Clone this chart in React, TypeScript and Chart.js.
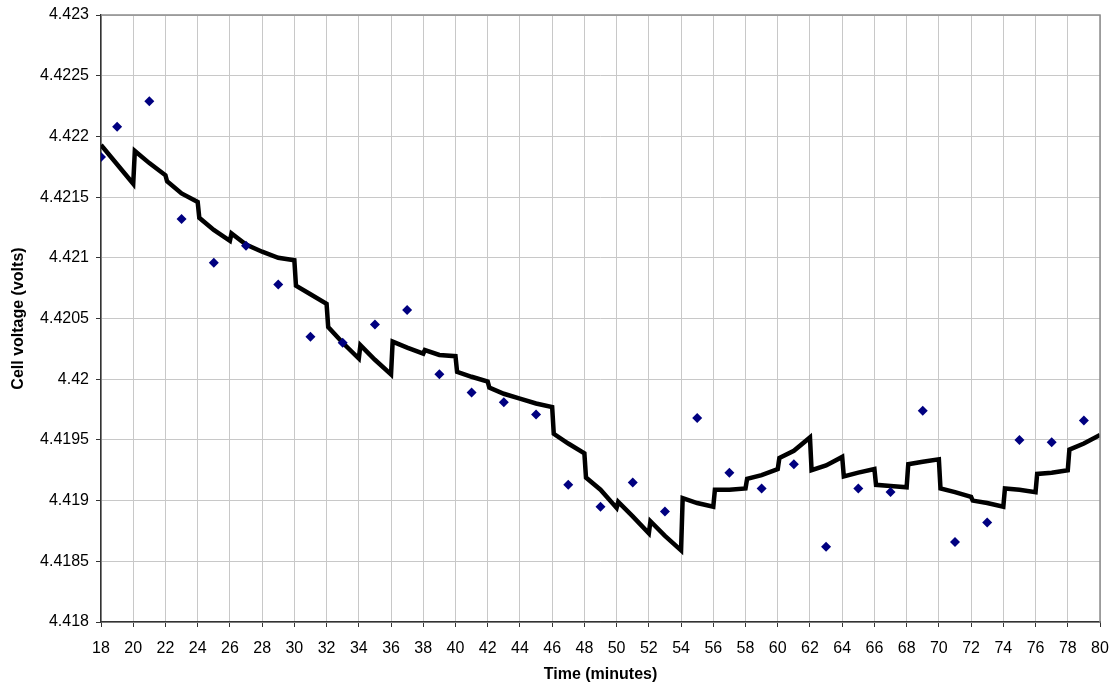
import React, { useEffect, useRef } from "react";
import { Chart, registerables } from "chart.js";

Chart.register(...registerables);

// Measured points (diamonds)
const measuredX = [18, 19, 21, 23, 25, 27, 29, 31, 33, 35, 37, 39, 41, 43, 45, 47, 49, 51, 53, 55, 57, 59, 61, 63, 65, 67, 69, 71, 73, 75, 77, 79];
const measuredY = [
  4.42183, 4.42208, 4.42229, 4.42132, 4.42096, 4.4211, 4.42078, 4.42035, 4.4203, 4.42045, 4.42057,
  4.42004, 4.41989, 4.41981, 4.41971, 4.41913, 4.41895, 4.41915, 4.41891, 4.41968, 4.41923, 4.4191,
  4.4193, 4.41862, 4.4191, 4.41907, 4.41974, 4.41866, 4.41882, 4.4195, 4.41948, 4.41966,
];

// Model curve (black line)
const modelX = [
  18, 20, 20.1, 21, 22, 22.1, 23, 24, 24.1, 25, 26, 26.1, 27, 28, 29, 30, 30.1, 31, 32, 32.1, 33, 34, 34.1,
  35, 36, 36.1, 37, 38, 38.1, 39, 40, 40.1, 41, 42, 42.1, 43, 44, 45, 46, 46.1, 47, 48, 48.1, 49, 50, 50.1,
  51, 52, 52.1, 53, 54, 54.1, 55, 56, 56.1, 57, 58, 58.1, 59, 60, 60.1, 61, 62, 62.1, 63, 64, 64.1, 65, 66,
  66.1, 67, 68, 68.1, 69, 70, 70.1, 71, 72, 72.1, 73, 74, 74.1, 75, 76, 76.1, 77, 78, 78.1, 79, 80,
];
const modelY = [
  4.42193, 4.42161, 4.42188, 4.42178, 4.42168, 4.42163, 4.42153, 4.42146, 4.42133, 4.42123, 4.42114,
  4.4212, 4.42111, 4.42105, 4.421, 4.42098, 4.42077, 4.4207, 4.42062, 4.42043, 4.4203, 4.42017, 4.42028,
  4.42016, 4.42004, 4.42031, 4.42026, 4.42021, 4.42024, 4.4202, 4.42019, 4.42006, 4.42002, 4.41998,
  4.41993, 4.41988, 4.41984, 4.4198, 4.41977, 4.41955, 4.41947, 4.41939, 4.41919, 4.41909, 4.41894,
  4.41899, 4.41887, 4.41873, 4.41883, 4.41871, 4.41859, 4.41902, 4.41898, 4.41895, 4.41909, 4.41909,
  4.4191, 4.41918, 4.41921, 4.41926, 4.41935, 4.41941, 4.41952, 4.41925, 4.41929, 4.41936, 4.4192,
  4.41923, 4.41926, 4.41913, 4.41912, 4.41911, 4.4193, 4.41932, 4.41934, 4.4191, 4.41907, 4.41903,
  4.419, 4.41898, 4.41895, 4.4191, 4.41909, 4.41907, 4.41922, 4.41923, 4.41925, 4.41942, 4.41947,
  4.41954,
];

const X_MIN = 18;
const X_MAX = 80;
const X_STEP = 2;
const Y_MIN = 4.418;
const Y_MAX = 4.423;
const Y_STEP = 0.0005;

const xTitle = "Time (minutes)";
const yTitle = "Cell voltage (volts)";

const FONT = "'Liberation Sans', Arial, sans-serif";

const frameBorder = {
  id: "frameBorder",
  afterDatasetsDraw(chart: any) {
    const { ctx, chartArea } = chart;
    ctx.save();
    ctx.strokeStyle = "#8c8c8c";
    ctx.lineWidth = 1.5;
    ctx.beginPath();
    ctx.moveTo(chartArea.left, chartArea.top);
    ctx.lineTo(chartArea.right, chartArea.top);
    ctx.lineTo(chartArea.right, chartArea.bottom);
    ctx.stroke();
    ctx.restore();
  },
};

export default function App() {
  const ref = useRef<HTMLCanvasElement>(null);

  useEffect(() => {
    const canvas = ref.current;
    if (!canvas) return;
    const chart = new Chart(canvas, {
      type: "scatter",
      data: {
        datasets: [
          {
            label: "Measured",
            data: measuredX.map((x, i) => ({ x, y: measuredY[i] })),
            pointStyle: "rectRot",
            pointRadius: 5,
            pointBackgroundColor: "#000080",
            pointBorderColor: "#000080",
            pointBorderWidth: 0,
            showLine: false,
            order: 0,
          },
          {
            label: "Model",
            data: modelX.map((x, i) => ({ x, y: modelY[i] })),
            showLine: true,
            borderColor: "#000000",
            borderWidth: 4.5,
            pointRadius: 0,
            fill: false,
            tension: 0,
            borderJoinStyle: "miter",
            order: 1,
          },
        ],
      },
      options: {
        responsive: false,
        animation: false,
        layout: { padding: { top: 15, right: 14, left: 0, bottom: 0 } },
        plugins: {
          legend: { display: false },
          tooltip: { enabled: false },
        },
        scales: {
          x: {
            type: "linear",
            min: X_MIN,
            max: X_MAX,
            afterBuildTicks: (scale: any) => {
              const t = [];
              for (let v = X_MIN; v <= X_MAX + 1e-9; v += X_STEP) t.push({ value: v });
              scale.ticks = t;
            },
            ticks: {
              color: "#000",
              font: { family: FONT, size: 16 },
              padding: 12,
              maxRotation: 0,
              autoSkip: false,
              callback: (v: any) => String(v),
            },
            grid: { color: "#c8c8c8", lineWidth: 1, tickLength: 5, tickColor: "#333" },
            border: { color: "#333", width: 1.5 },
            title: {
              display: true,
              text: xTitle,
              color: "#000",
              font: { family: FONT, size: 16, weight: "bold" },
              padding: { top: 2, bottom: 4 },
            },
            afterFit: (scale: any) => {
              scale.height = 66;
              scale.paddingLeft = 0;
              scale.paddingRight = 0;
            },
          },
          y: {
            type: "linear",
            min: Y_MIN,
            max: Y_MAX,
            afterBuildTicks: (scale: any) => {
              const t = [];
              for (let i = 0; i <= Math.round((Y_MAX - Y_MIN) / Y_STEP); i++) t.push({ value: Y_MIN + i * Y_STEP });
              scale.ticks = t;
            },
            ticks: {
              color: "#000",
              font: { family: FONT, size: 16 },
              padding: 7,
              autoSkip: false,
              callback: (v: any) => String(parseFloat(Number(v).toFixed(4))),
            },
            grid: { color: "#c8c8c8", lineWidth: 1, tickLength: 5, tickColor: "#333" },
            border: { color: "#333", width: 1.5 },
            title: {
              display: true,
              text: yTitle,
              color: "#000",
              font: { family: FONT, size: 16, weight: "bold" },
              padding: { top: 9, bottom: 0 },
            },
            afterFit: (scale: any) => {
              scale.width = 101;
              scale.paddingTop = 0;
              scale.paddingBottom = 0;
            },
          },
        },
      },
      plugins: [frameBorder],
    });
    return () => chart.destroy();
  }, []);

  return (
    <div style={{ position: "absolute", left: 0, top: 0, width: 1114, height: 688, background: "#fff" }}>
      <canvas ref={ref} width={1114} height={688} style={{ display: "block", width: 1114, height: 688 }} />
    </div>
  );
}
